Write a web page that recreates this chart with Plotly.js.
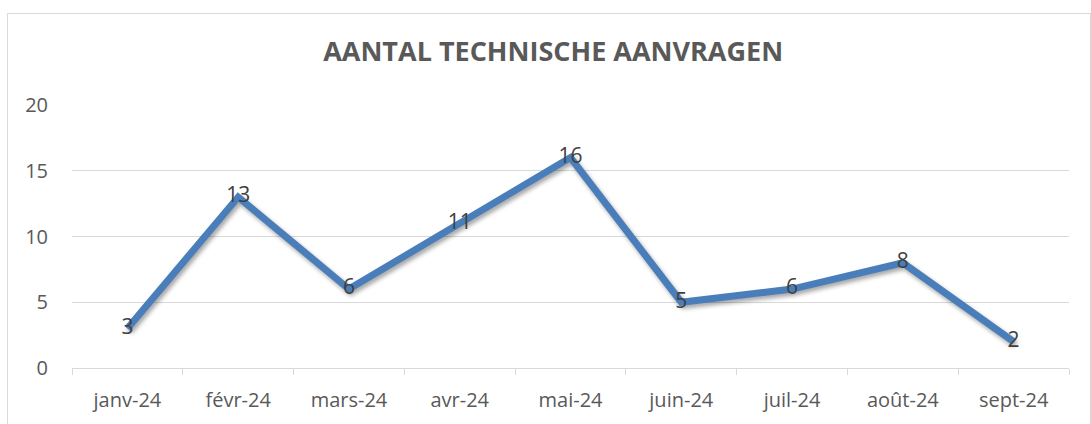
<!DOCTYPE html>
<html>
<head>
<meta charset="utf-8">
<script src="https://cdn.plot.ly/plotly-3.0.1.min.js"></script>
<style>
html,body{margin:0;padding:0;background:#fff;}
#wrap{position:relative;width:1091px;height:424px;}
#frame{position:absolute;left:7px;top:13px;width:1082px;height:420px;border:1px solid #d9d9d9;pointer-events:none;}
#chart{position:absolute;left:0;top:0;width:1091px;height:424px;}
.scatterlayer .js-line{filter:drop-shadow(2px 3px 2px rgba(0,0,0,0.35));}
</style>
</head>
<body>
<div id="wrap"><div id="chart"></div><div id="frame"></div></div>
<script>
const months = ['janv-24','févr-24','mars-24','avr-24','mai-24','juin-24','juil-24','août-24','sept-24'];
const requests = [3,13,6,11,16,5,6,8,2];
const yTicks = [0,5,10,15,20];

const FONT = '"Open Sans", sans-serif';
const trace = {
  x: months, y: requests, type: 'scatter', mode: 'lines+text',
  text: requests.map(String), textposition: 'middle center',
  textfont: {family: FONT, size: 21, color: '#404040'},
  line: {color: '#4A7EBB', width: 7},
  hoverinfo: 'none', cliponaxis: false
};
const layout = {
  width: 1091, height: 424,
  margin: {l: 72, r: 22, t: 105, b: 56},
  paper_bgcolor: '#fff', plot_bgcolor: '#fff',
  showlegend: false,
  font: {family: FONT, color: '#595959', size: 20},
  title: {text: '<b>AANTAL TECHNISCHE AANVRAGEN</b>', x: 0.507, xanchor: 'center',
          y: 1 - 52/424, yref: 'container', yanchor: 'middle',
          font: {family: FONT, size: 27, color: '#595959'}},
  xaxis: {type: 'category', range: [-0.5, 8.5], showgrid: false, zeroline: false,
          showline: true, linecolor: '#d9d9d9', linewidth: 1,
          ticks: 'outside', tickson: 'boundaries', ticklen: 6, tickcolor: '#d9d9d9',
          ticklabelstandoff: 14, tickfont: {size: 20, color: '#595959'}},
  yaxis: {range: [0, 20], tickvals: yTicks, showgrid: true, gridcolor: '#d9d9d9', gridwidth: 1,
          zeroline: false, showline: false, ticks: '', ticklabelstandoff: 23,
          tickfont: {size: 20, color: '#595959'}}
};
Plotly.newPlot('chart', [trace], layout, {displayModeBar: false, staticPlot: true});
</script>
</body>
</html>
